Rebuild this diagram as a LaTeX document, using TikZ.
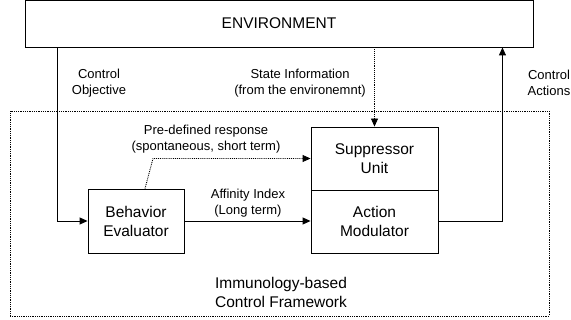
\documentclass[tikz,border=0pt]{standalone}
\usepackage{fontspec}
\setmainfont{Liberation Sans}
\usetikzlibrary{arrows.meta}
\begin{document}
\begin{tikzpicture}[x=1pt,y=-1pt,
  box/.style={draw,line width=0.9pt,inner sep=0pt,align=center,font=\fontsize{15.5}{19}\selectfont},
  lbl/.style={inner sep=0pt,align=center,font=\fontsize{13}{16}\selectfont},
  arr/.style={line width=0.9pt,-{Triangle[length=8pt,width=7pt]}},
  dotarr/.style={line width=0.9pt,densely dotted,-{Triangle[length=8pt,width=7pt]}}]
\useasboundingbox (0,0) rectangle (571,320);
\node[box,minimum width=508pt,minimum height=47pt] (env) at (279,23.5) {ENVIRONMENT};
\node[draw,line width=0.8pt,densely dotted,minimum width=539pt,minimum height=205pt,inner sep=0pt] (frame) at (279.5,213.5) {};
\node[box,minimum width=96pt,minimum height=64pt] (beh) at (136,221) {Behavior\\Evaluator};
\node[box,minimum width=127pt,minimum height=63pt] (sup) at (374.5,158.5) {Suppressor\\Unit};
\node[box,minimum width=127pt,minimum height=63pt] (act) at (374.5,221.5) {Action\\Modulator};
\node[lbl] (lco) at (99,83) {Control\\Objective};
\node[lbl] (lsi) at (300,83) {State Information\\(from the environemnt)};
\node[lbl] (lca) at (549,83) {Control\\Actions};
\node[lbl] (lpd) at (206,139) {Pre-defined response\\(spontaneous, short term)};
\node[lbl] (lai) at (248,203.5) {Affinity Index\\(Long term)};
\node[box,draw=none] (lfw) at (281,292.5) {Immunology-based\\Control Framework};
\draw[arr] ([xshift=32.5pt]env.south west) |- (beh.west);
\draw[dotarr] (env.south -| sup.north) -- (sup.north);
\draw[arr] (act.east) -| ([xshift=-31pt]env.south east);
\draw[arr] (beh.east) -- (beh.east -| act.west);
\coordinate (pdbend) at (153,158.5);
\draw[dotarr] ([xshift=9pt]beh.north) -- (pdbend) -- (sup.west);
\end{tikzpicture}
\end{document}
